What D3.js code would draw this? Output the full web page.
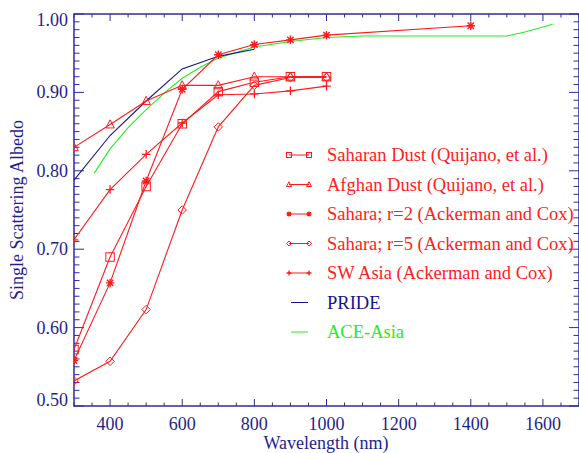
<!DOCTYPE html>
<html><head><meta charset="utf-8">
<script src="https://cdn.jsdelivr.net/npm/d3@7"></script>
<style>body{margin:0;background:#fff}svg{display:block}</style>
</head><body>
<script>
// ---- data ----
const wlQ = [300,400,500,600,700,800,900,1000];
const saharanDust = [0.572,0.690,0.780,0.860,0.901,0.913,0.920,0.920];
const afghanDust  = [0.830,0.859,0.889,0.909,0.909,0.920,0.920,0.920];
const wlAC = [300,400,500,600,700,800,900,1000,1400];
const saharaR2 = [0.558,0.657,0.787,0.904,0.948,0.961,0.967,0.973,0.985];
const wlAC5 = [300,400,500,600,700,800,900,1000];
const saharaR5 = [0.532,0.557,0.623,0.750,0.856,0.909,0.919,0.919];
const swAsia   = [0.712,0.776,0.821,0.861,0.897,0.898,0.902,0.908];
const wlPride = [300,400,500,600,700,800];
const pride = [0.788,0.845,0.889,0.930,0.946,0.955];
const wlAce = [356,400,450,500,550,600,650,700,800,900,1000,1100,1500,1550,1627];
const aceAsia = [0.797,0.828,0.855,0.878,0.899,0.918,0.932,0.944,0.958,0.965,0.970,0.972,0.972,0.977,0.987];
const xTickLabels = [400,600,800,1000,1200,1400,1600];
const yTickLabels = [0.50,0.60,0.70,0.80,0.90,1.00];
const legendNames = ["Saharan Dust (Quijano, et al.)","Afghan Dust (Quijano, et al.)","Sahara; r=2 (Ackerman and Cox)","Sahara; r=5 (Ackerman and Cox)","SW Asia (Ackerman and Cox)","PRIDE","ACE-Asia"];

const RED="#ff1a1a", NAVY="#15158a", GREEN="#22ee22", AX="#2c2c9e", TXT="#1f1f8c";
const FONT="Liberation Serif";
const series = [
  {name:legendNames[0], x:wlQ, y:saharanDust, color:RED, sym:"square"},
  {name:legendNames[1], x:wlQ, y:afghanDust, color:RED, sym:"triangle"},
  {name:legendNames[2], x:wlAC, y:saharaR2, color:RED, sym:"asterisk"},
  {name:legendNames[3], x:wlAC5, y:saharaR5, color:RED, sym:"diamond"},
  {name:legendNames[4], x:wlAC5, y:swAsia, color:RED, sym:"plus"},
  {name:legendNames[5], x:wlPride, y:pride, color:NAVY, sym:null},
  {name:legendNames[6], x:wlAce, y:aceAsia, color:GREEN, sym:null},
];

const W=579,H=453;
const L=74,R=579,T=14,B=406;
const svg=d3.select("body").append("svg").attr("width",W).attr("height",H);
const x=d3.scaleLinear().domain([300,1700]).range([L,R]);
const y=d3.scaleLinear().domain([0.5,1.0]).range([B,T]);

svg.append("clipPath").attr("id","c").append("rect").attr("x",L).attr("y",T).attr("width",R-L).attr("height",B-T);

// axes frame with ticks
const g=svg.append("g");
const xMinor=d3.range(300,1701,50), yMinor=d3.range(50,101).map(d=>d/100);
function isMajX(v){return (v-400)%200===0;}
function isMajY(v){return Math.round(v*100)%10===0;}
xMinor.forEach(v=>{
  const len=isMajX(v)?7:3.5;
  g.append("line").attr("x1",x(v)).attr("x2",x(v)).attr("y1",B).attr("y2",B-len).attr("stroke",AX).attr("stroke-width",1);
  g.append("line").attr("x1",x(v)).attr("x2",x(v)).attr("y1",T).attr("y2",T+len).attr("stroke",AX).attr("stroke-width",1);
});
yMinor.forEach(v=>{
  const len=isMajY(v)?10:5.5;
  g.append("line").attr("x1",L).attr("x2",L+len).attr("y1",y(v)).attr("y2",y(v)).attr("stroke",AX).attr("stroke-width",1);
  g.append("line").attr("x1",R).attr("x2",R-len).attr("y1",y(v)).attr("y2",y(v)).attr("stroke",AX).attr("stroke-width",1);
});
g.append("rect").attr("x",L).attr("y",T).attr("width",R-L).attr("height",B-T).attr("fill","none").attr("stroke",AX).attr("stroke-width",1.5);

function txt(xp,yp,s,size,fill,anchor){
  return svg.append("text").attr("x",xp).attr("y",yp).attr("text-anchor",anchor||"start")
    .style("font-family",FONT).attr("font-size",size).attr("fill",fill).text(s);
}
// tick labels
xTickLabels.forEach(v=>txt(x(v),430,v,18,TXT,"middle"));
yTickLabels.forEach(v=>{
  let off=6;
  if(v===1.0) off=12; if(v===0.5) off=0;
  txt(68,y(v)+off,v.toFixed(2),18,TXT,"end");
});
txt(326,449,"Wavelength (nm)",18,TXT,"middle");
svg.append("text").attr("transform","translate(23,210) rotate(-90)").attr("text-anchor","middle")
  .style("font-family",FONT).attr("font-size",18).attr("fill",TXT).text("Single Scattering Albedo");

// symbols
function drawSym(sel,type,cx,cy,s,color){
  const h=s/2;
  if(type==="square") sel.append("rect").attr("x",cx-h).attr("y",cy-h).attr("width",s).attr("height",s).attr("fill","none").attr("stroke",color);
  else if(type==="triangle") sel.append("path").attr("d",`M${cx},${cy-h*1.1}L${cx+h},${cy+h*0.8}L${cx-h},${cy+h*0.8}Z`).attr("fill","none").attr("stroke",color);
  else if(type==="diamond") sel.append("path").attr("d",`M${cx},${cy-h}L${cx+h},${cy}L${cx},${cy+h}L${cx-h},${cy}Z`).attr("fill","none").attr("stroke",color);
  else if(type==="plus") sel.append("path").attr("d",`M${cx-h},${cy}H${cx+h}M${cx},${cy-h}V${cy+h}`).attr("stroke",color).attr("stroke-width",1.3);
  else if(type==="asterisk"){const d=h*0.75;sel.append("path").attr("d",`M${cx-h},${cy}H${cx+h}M${cx},${cy-h}V${cy+h}M${cx-d},${cy-d}L${cx+d},${cy+d}M${cx-d},${cy+d}L${cx+d},${cy-d}`).attr("stroke",color).attr("stroke-width",1.4);}
}

const plot=svg.append("g").attr("clip-path","url(#c)");
const line=d3.line();
[series[6],series[5],series[4],series[3],series[2],series[1],series[0]].forEach(s=>{
  const pts=s.x.map((v,i)=>[x(v),y(s.y[i])]);
  plot.append("path").attr("d",line(pts)).attr("fill","none").attr("stroke",s.color).attr("stroke-width",1.1);
  if(s.sym) pts.forEach(p=>drawSym(plot,s.sym,p[0],p[1],8.5,s.color));
});

// legend
const lg=svg.append("g");
series.forEach((s,i)=>{
  const cy=155+i*29.5;
  if(s.sym){
    lg.append("line").attr("x1",289).attr("x2",309).attr("y1",cy).attr("y2",cy).attr("stroke",s.color).attr("stroke-width",1);
    drawSym(lg,s.sym,289,cy,5,s.color);
    drawSym(lg,s.sym,309,cy,5,s.color);
  } else {
    lg.append("line").attr("x1",291).attr("x2",308).attr("y1",cy).attr("y2",cy).attr("stroke",s.color).attr("stroke-width",1);
  }
  txt(327,cy+6,s.name,18.5,s.color===RED?"#ff2020":s.color);
});
</script>
</body></html>
